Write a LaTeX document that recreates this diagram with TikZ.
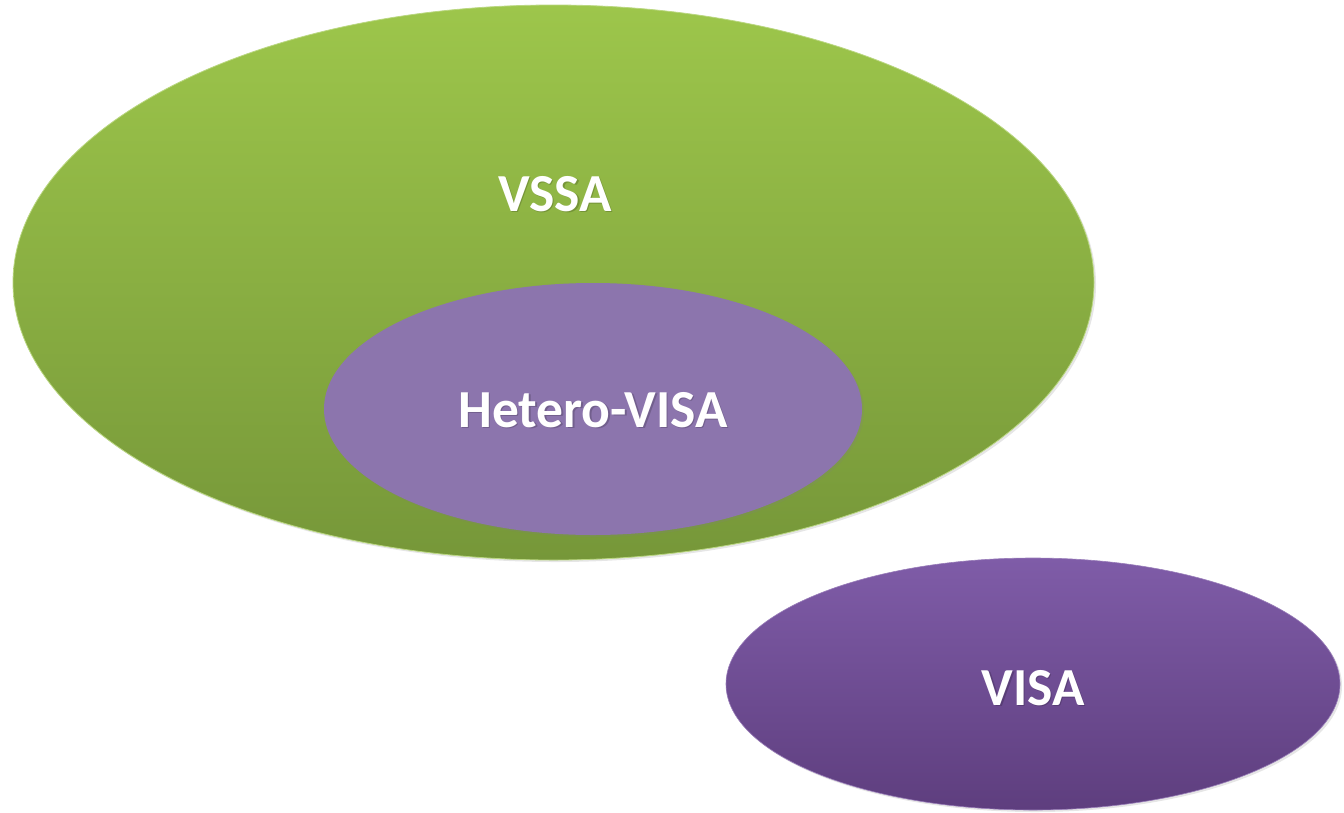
\documentclass[tikz,border=0pt]{standalone}
\usepackage{fontspec}
\setmainfont{Carlito}
\usetikzlibrary{shapes.geometric, shadows}

\definecolor{vssatop}{HTML}{9DC64B}
\definecolor{vssabot}{HTML}{769739}
\definecolor{heteropurple}{HTML}{8C75AD}
\definecolor{visatop}{HTML}{7F5CA8}
\definecolor{visabot}{HTML}{5E3E7E}

\tikzset{
  blob/.style={ellipse, inner sep=0pt, drop shadow={opacity=0.2, shadow xshift=2pt, shadow yshift=-2pt}},
  setlabel/.style={font=\fontsize{53.5}{60}\selectfont\bfseries, text=white, inner sep=0pt},
  labelshadow/.style={setlabel, text=black, opacity=0.18}
}

\begin{document}
\begin{tikzpicture}[x=1pt, y=-1pt]
\useasboundingbox (0,0) rectangle (1344,812);

% the three sets
\node[blob, minimum width=1081pt, minimum height=555pt, top color=vssatop, bottom color=vssabot,
      draw=vssatop!70!white, line width=0.8pt] (vssa) at (553.5,282.5) {};
\node[blob, minimum width=538pt, minimum height=252pt, fill=heteropurple] (hetero) at (593,409) {};
\node[blob, minimum width=614pt, minimum height=252pt, top color=visatop, bottom color=visabot,
      draw=visatop!80!white, line width=0.6pt] (visa) at (1033,684) {};

% labels
\foreach \name/\x/\y/\txt in {vssalbl/555/194/VSSA, heterolbl/593/410/Hetero-VISA, visalbl/1033/688/VISA} {
    \node[labelshadow] at (\x+1.5,\y+1.5) {\txt};
    \node[setlabel] (\name) at (\x,\y) {\txt};
}
\end{tikzpicture}
\end{document}
